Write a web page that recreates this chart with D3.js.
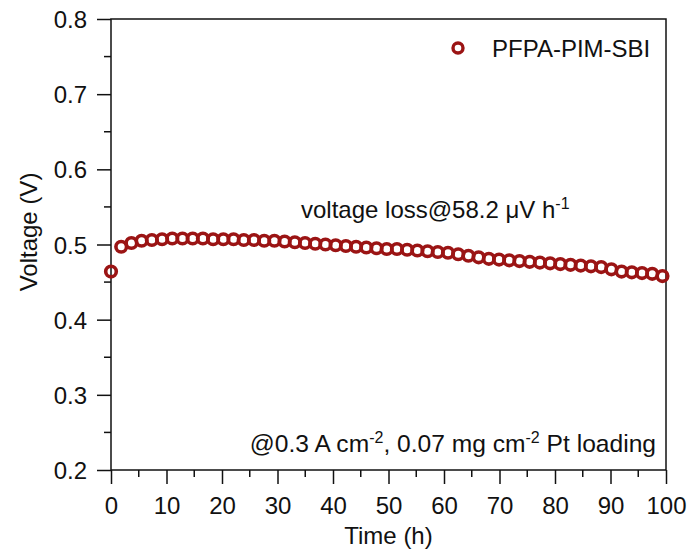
<!DOCTYPE html>
<html>
<head>
<meta charset="utf-8">
<script src="https://cdn.jsdelivr.net/npm/d3@7"></script>
<style>
  body { margin: 0; background: #fff; }
  svg text { font-family: "Liberation Sans", Arial, sans-serif; fill: #111; }
</style>
</head>
<body>
<div id="chart"></div>
<script>
const width = 689;
const height = 551;
const margin = { left: 111, right: 23, top: 19, bottom: 81 };

// time (h) and voltage (V)
const timeH = [
  0, 1.84, 3.68, 5.52, 7.36, 9.2, 11.04, 12.88, 14.72, 16.56,
  18.4, 20.24, 22.08, 23.92, 25.76, 27.6, 29.44, 31.28, 33.12, 34.96,
  36.8, 38.64, 40.48, 42.32, 44.16, 46.0, 47.84, 49.68, 51.52, 53.36,
  55.2, 57.04, 58.88, 60.72, 62.56, 64.4, 66.24, 68.08, 69.92, 71.76,
  73.6, 75.44, 77.28, 79.12, 80.96, 82.8, 84.64, 86.48, 88.32, 90.16,
  92.0, 93.84, 95.68, 97.52, 99.36
];
const voltage = [
  0.464, 0.497, 0.502, 0.505, 0.506, 0.507, 0.508, 0.508, 0.508, 0.508,
  0.507, 0.507, 0.507, 0.506, 0.506, 0.505, 0.505, 0.504, 0.503, 0.502,
  0.501, 0.500, 0.499, 0.498, 0.497, 0.496, 0.495, 0.494, 0.494, 0.493,
  0.492, 0.491, 0.490, 0.489, 0.487, 0.485, 0.483, 0.481, 0.480, 0.479,
  0.478, 0.477, 0.476, 0.475, 0.474, 0.473, 0.472, 0.471, 0.470, 0.467,
  0.464, 0.463, 0.462, 0.461, 0.458
];
const xTicks = [0, 10, 20, 30, 40, 50, 60, 70, 80, 90, 100];
const xMinor = [5, 15, 25, 35, 45, 55, 65, 75, 85, 95];
const yTicks = [0.2, 0.3, 0.4, 0.5, 0.6, 0.7, 0.8];
const yMinor = [0.25, 0.35, 0.45, 0.55, 0.65, 0.75];
const seriesName = "PFPA-PIM-SBI";
const markColor = "#9b1414";

const svg = d3.select("#chart").append("svg")
  .attr("width", width)
  .attr("height", height);

const x = d3.scaleLinear().domain([0, 100]).range([margin.left, width - margin.right]);
const y = d3.scaleLinear().domain([0.2, 0.8]).range([height - margin.bottom, margin.top]);

// frame
svg.append("rect")
  .attr("x", x(0)).attr("y", y(0.8))
  .attr("width", x(100) - x(0)).attr("height", y(0.2) - y(0.8))
  .attr("fill", "none").attr("stroke", "#111").attr("stroke-width", 1.5);

// x axis
const xAxis = svg.append("g")
  .attr("transform", `translate(0,${y(0.2)})`)
  .call(d3.axisBottom(x).tickValues(xTicks).tickSize(14).tickFormat(d3.format("d")));
xAxis.select(".domain").remove();
xAxis.selectAll(".tick line").attr("stroke", "#111").attr("stroke-width", 1.5);
xAxis.selectAll(".tick text").attr("y", 44).attr("dy", null)
  .style("font-size", "24px").attr("fill", "#111");
xAxis.selectAll(".minor").data(xMinor).enter().append("line")
  .attr("x1", d => x(d)).attr("x2", d => x(d))
  .attr("y1", 0).attr("y2", 7)
  .attr("stroke", "#111").attr("stroke-width", 1.5);

// y axis
const yAxis = svg.append("g")
  .attr("transform", `translate(${x(0)},0)`)
  .call(d3.axisLeft(y).tickValues(yTicks).tickSize(14).tickFormat(d3.format(".1f")));
yAxis.select(".domain").remove();
yAxis.selectAll(".tick line").attr("stroke", "#111").attr("stroke-width", 1.5);
yAxis.selectAll(".tick text").attr("x", -24).attr("dy", "0.36em")
  .style("font-size", "24px").attr("fill", "#111");
yAxis.selectAll(".minor").data(yMinor).enter().append("line")
  .attr("y1", d => y(d)).attr("y2", d => y(d))
  .attr("x1", 0).attr("x2", -7)
  .attr("stroke", "#111").attr("stroke-width", 1.5);

// axis titles
svg.append("text")
  .attr("x", (x(0) + x(100)) / 2).attr("y", 544)
  .attr("text-anchor", "middle").style("font-size", "24px")
  .text("Time (h)");
svg.append("text")
  .attr("transform", `translate(37,232) rotate(-90)`)
  .attr("text-anchor", "middle").style("font-size", "24px")
  .text("Voltage (V)");

// data points
const points = timeH.map((t, i) => ({ t: t, v: voltage[i] }));
svg.append("g").selectAll("circle")
  .data(points)
  .enter()
  .append("circle")
  .attr("cx", d => x(d.t))
  .attr("cy", d => y(d.v))
  .attr("r", 5.3)
  .attr("fill", "none")
  .attr("stroke", markColor)
  .attr("stroke-width", 3.6);

// legend
svg.append("circle")
  .attr("cx", 458).attr("cy", 48).attr("r", 5)
  .attr("fill", "none").attr("stroke", markColor).attr("stroke-width", 3.4);
svg.append("text")
  .attr("x", 492).attr("y", 57)
  .style("font-size", "24px")
  .text(seriesName);

// annotations
const loss = svg.append("text")
  .attr("x", 301).attr("y", 218)
  .style("font-size", "24px");
loss.append("tspan").text("voltage loss@58.2 \u03bcV h");
loss.append("tspan").attr("dy", -9).style("font-size", "16px").text("-1");

const cond = svg.append("text")
  .attr("x", 656).attr("y", 452)
  .attr("text-anchor", "end")
  .style("font-size", "24.6px");
cond.append("tspan").text("@0.3 A cm");
cond.append("tspan").attr("dy", -9).style("font-size", "16px").text("-2");
cond.append("tspan").attr("dy", 9).text(", 0.07 mg cm");
cond.append("tspan").attr("dy", -9).style("font-size", "16px").text("-2");
cond.append("tspan").attr("dy", 9).text(" Pt loading");
</script>
</body>
</html>
